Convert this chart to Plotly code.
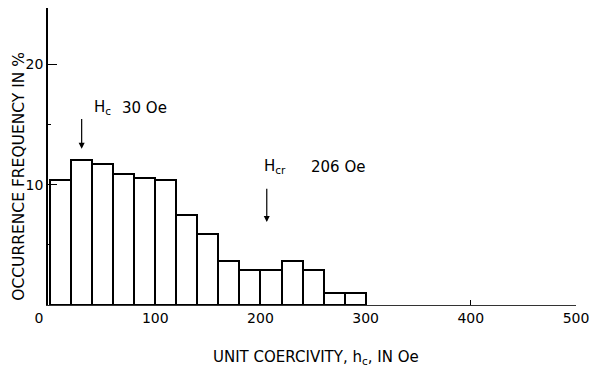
import plotly.graph_objects as go

# Data: histogram of unit coercivity (20 Oe bins)
bin_left = [0, 20, 40, 60, 80, 100, 120, 140, 160, 180, 200, 220, 240, 260, 280]
bin_width = 20
frequency = [10.4, 12.1, 11.7, 10.9, 10.6, 10.4, 7.5, 5.9, 3.7, 2.9, 2.9, 3.7, 2.9, 1.0, 1.0]
x_ticks = [0, 100, 200, 300, 400, 500]
x_ticklabels = ["0\u00a0\u00a0\u00a0\u00a0\u00a0", "100", "200", "300", "400", "500"]
y_ticks = [10, 20]
y_ticklabels = ["10", "20"]
Hc = 30
Hcr = 206

FONT = "DejaVu Sans"

fig = go.Figure()
fig.add_trace(go.Bar(
    x=[b + bin_width / 2 for b in bin_left],
    y=frequency,
    width=[bin_width] * len(bin_left),
    marker=dict(color="white", line=dict(color="black", width=2)),
    showlegend=False,
    hoverinfo="skip",
))

fig.update_layout(
    width=597, height=368,
    margin=dict(l=48, r=19, t=8, b=63),
    paper_bgcolor="white", plot_bgcolor="white",
    font=dict(family=FONT, color="black", size=14),
    bargap=0,
    xaxis=dict(
        range=[-2, 500], tickvals=x_ticks, ticktext=x_ticklabels,
        ticks="inside", ticklen=5, tickcolor="black", tickwidth=1,
        showline=True, linecolor="#333", linewidth=1,
        showgrid=False, zeroline=False,
        tickfont=dict(size=14, family=FONT),
    ),
    yaxis=dict(
        range=[0, 24.7], tickvals=y_ticks, ticktext=y_ticklabels,
        ticks="inside", ticklen=9, tickcolor="black", tickwidth=1.2,
        minor=dict(tickvals=[5, 15], ticks="inside", ticklen=3, tickcolor="black"),
        showline=True, linecolor="black", linewidth=1.5,
        showgrid=False, zeroline=False,
        tickfont=dict(size=14, family=FONT),
    ),
)

annotations = [
    # arrows
    dict(x=Hc, y=13.0, ax=Hc, ay=15.6, xref="x", yref="y", axref="x", ayref="y",
         showarrow=True, arrowhead=2, arrowsize=1, arrowwidth=1.2, arrowcolor="black", text=""),
    dict(x=Hcr, y=6.9, ax=Hcr, ay=9.8, xref="x", yref="y", axref="x", ayref="y",
         showarrow=True, arrowhead=2, arrowsize=1, arrowwidth=1.2, arrowcolor="black", text=""),
    # labels
    dict(x=39.6, y=16.4, xref="x", yref="y", text="H<sub>c</sub>", showarrow=False,
         xanchor="left", yanchor="middle", font=dict(size=15)),
    dict(x=66.2, y=16.4, xref="x", yref="y", text="30 Oe", showarrow=False,
         xanchor="left", yanchor="middle", font=dict(size=15)),
    dict(x=201.5, y=11.5, xref="x", yref="y", text="H<sub>cr</sub>", showarrow=False,
         xanchor="left", yanchor="middle", font=dict(size=15)),
    dict(x=246.0, y=11.5, xref="x", yref="y", text="206 Oe", showarrow=False,
         xanchor="left", yanchor="middle", font=dict(size=15)),
    # axis titles
    dict(x=-0.055, y=0.435, xref="paper", yref="paper", text="OCCURRENCE FREQUENCY IN %",
         textangle=-90, showarrow=False, xanchor="center", yanchor="middle", font=dict(size=15.5)),
    dict(x=0.508, y=-0.178, xref="paper", yref="paper", text="UNIT COERCIVITY, h<sub>c</sub>, IN Oe",
         showarrow=False, xanchor="center", yanchor="middle", font=dict(size=15)),
]
fig.update_layout(annotations=annotations)

fig.write_html("out.html")
